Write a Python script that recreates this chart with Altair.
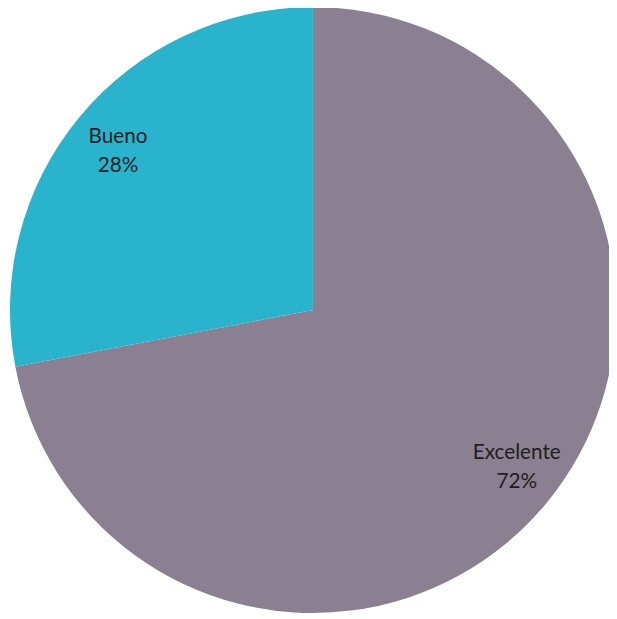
import altair as alt
import pandas as pd

categories = ["Excelente", "Bueno"]
percents = [72, 28]
colors = ["#8b8091", "#2ab3cd"]

df = pd.DataFrame({"cat": categories, "pct": percents, "order": [0, 1]})

base = alt.Chart(df).transform_calculate(
    label="datum.cat + '\\n' + datum.pct + '%'"
).encode(
    theta=alt.Theta("pct:Q", stack=True),
    order=alt.Order("order:O"),
)

pie = base.mark_arc(outerRadius=307, x=309, y=302).encode(
    color=alt.Color("cat:N", scale=alt.Scale(domain=categories, range=colors), legend=None)
)

text_style = dict(radius=255, x=309, y=302, lineBreak="\n", font="Lato", fontSize=21,
                  color="#1e1e1e", lineHeight=30)

text_exc = base.mark_text(dx=10, dy=-18, **text_style).encode(
    text="label:N", opacity=alt.condition(alt.datum.cat == "Excelente", alt.value(1), alt.value(0))
)
text_bue = base.mark_text(dx=-1, dy=-13, **text_style).encode(
    text="label:N", opacity=alt.condition(alt.datum.cat == "Bueno", alt.value(1), alt.value(0))
)

chart = (pie + text_exc + text_bue).properties(
    width=609, height=611, padding=0, autosize=alt.AutoSizeParams(type="none")
).configure_view(stroke=None)

chart.save("out.html", embed_options={"renderer": "svg", "actions": False})
